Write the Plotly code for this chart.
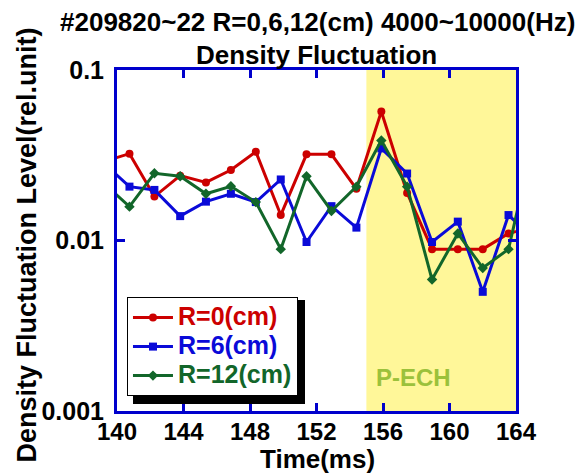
import plotly.graph_objects as go

# Sample times (ms); the first and last samples sit just outside the axis range
time_ms = [139.23, 140.75, 142.25, 143.8, 145.35, 146.85, 148.35, 149.85, 151.4,
           152.9, 154.4, 155.9, 157.45, 158.95, 160.5, 162.0, 163.55, 165.08]

# Density fluctuation level (rel. unit) at three radii
level_r0 = [0.0291, 0.0323, 0.0181, 0.0240, 0.0219, 0.0259, 0.0332, 0.0141, 0.0320,
            0.0320, 0.0201, 0.0571, 0.0190, 0.0089, 0.0089, 0.0089, 0.0110, 0.0120]
level_r6 = [0.0283, 0.0207, 0.0198, 0.0139, 0.0169, 0.0188, 0.0168, 0.0228, 0.0098,
            0.0159, 0.0119, 0.0347, 0.0247, 0.0098, 0.0129, 0.0050, 0.0141, 0.0102]
level_r12 = [0.0216, 0.0158, 0.0248, 0.0238, 0.0188, 0.0208, 0.0168, 0.0089, 0.0238,
             0.0149, 0.0207, 0.0386, 0.0207, 0.0059, 0.0110, 0.0069, 0.0089, 0.0400]

series_names = ["R=0(cm)", "R=6(cm)", "R=12(cm)"]
series_colors = ["#cc0000", "#0a0ad8", "#12662a"]
series_symbols = ["circle", "square", "diamond"]

# ECH heating window (ms)
ech_window = [155.0, 164.0]

x_ticks = [140, 144, 148, 152, 156, 160, 164]
y_ticks = [0.001, 0.01, 0.1]
y_tick_text = ["0.001", "0.01", "0.1"]

AXIS_BLUE = "#0000cc"
FONT = "Liberation Sans"

fig = go.Figure()

for vals, name, color, sym in zip([level_r0, level_r6, level_r12], series_names,
                                  series_colors, series_symbols):
    fig.add_trace(go.Scatter(
        x=time_ms, y=vals, mode="lines+markers",
        # legend rows are spaced by the legend font size; the label itself is drawn larger
        name=f'<span style="color:{color};font-size:25px">{name}</span>',
        line=dict(color=color, width=3),
        marker=dict(color=color, symbol=sym, size=8, line=dict(width=0)),
    ))

# Shaded P-ECH period
fig.add_shape(type="rect", xref="x", yref="paper", x0=ech_window[0], x1=ech_window[1],
              y0=0, y1=1, fillcolor="#fff799", line=dict(width=0), layer="below")

# Legend drop shadow, drawn in pixels relative to the plot's lower-left corner
fig.add_shape(type="rect", xref="paper", yref="paper", xsizemode="pixel", ysizemode="pixel",
              xanchor=0, yanchor=0, x0=16, x1=188, y0=7, y1=111,
              fillcolor="black", line=dict(width=0), layer="above")

fig.add_annotation(text="#209820~22 R=0,6,12(cm) 4000~10000(Hz)", xref="paper", yref="paper",
                   x=0.5025, y=1.1408, showarrow=False, xanchor="center", yanchor="middle",
                   font=dict(family=FONT, size=26, color="black", weight="bold"))
fig.add_annotation(text="Density Fluctuation", xref="paper", yref="paper",
                   x=0.5, y=1.044, showarrow=False, xanchor="center", yanchor="middle",
                   font=dict(family=FONT, size=26, color="black", weight="bold"))
fig.add_annotation(text="Time(ms)", xref="paper", yref="paper",
                   x=0.5025, y=-0.140, showarrow=False, xanchor="center", yanchor="middle",
                   font=dict(family=FONT, size=26, color="black", weight="bold"))
fig.add_annotation(text="Density Fluctuation Level(rel.unit)", xref="paper", yref="paper",
                   x=-0.228, y=0.4853, showarrow=False, textangle=-90,
                   xanchor="center", yanchor="middle",
                   font=dict(family=FONT, size=27, color="black", weight="bold"))
fig.add_annotation(text="P-ECH", xref="paper", yref="paper",
                   x=0.742, y=0.0968, showarrow=False, xanchor="center", yanchor="middle",
                   font=dict(family=FONT, size=24, color="#9bc13b", weight="bold"))

fig.update_layout(
    width=583, height=473,
    margin=dict(l=117, r=67, t=70, b=62),
    paper_bgcolor="white", plot_bgcolor="white",
    font=dict(family=FONT, color="black"),
    showlegend=True,
    legend=dict(x=0.025, y=0.334, xanchor="left", yanchor="top",
                bgcolor="white", bordercolor="black", borderwidth=1,
                font=dict(family=FONT, size=20, weight="bold"),
                tracegroupgap=0, itemwidth=40),
)

fig.update_xaxes(range=[140, 164], tickvals=x_ticks, showgrid=False, zeroline=False,
                 showline=True, linecolor=AXIS_BLUE, linewidth=3, mirror="ticks",
                 ticks="inside", ticklen=8, tickwidth=3, tickcolor=AXIS_BLUE,
                 ticklabelstandoff=-3,
                 tickfont=dict(family=FONT, size=24, color="black", weight="bold"))
fig.update_yaxes(type="log", range=[-3, -1], tickvals=y_ticks, ticktext=y_tick_text,
                 showgrid=False, zeroline=False,
                 showline=True, linecolor=AXIS_BLUE, linewidth=3, mirror="ticks",
                 ticks="inside", ticklen=8, tickwidth=3, tickcolor=AXIS_BLUE,
                 ticklabelstandoff=5,
                 tickfont=dict(family=FONT, size=25, color="black", weight="bold"))

fig.write_html("out.html")
